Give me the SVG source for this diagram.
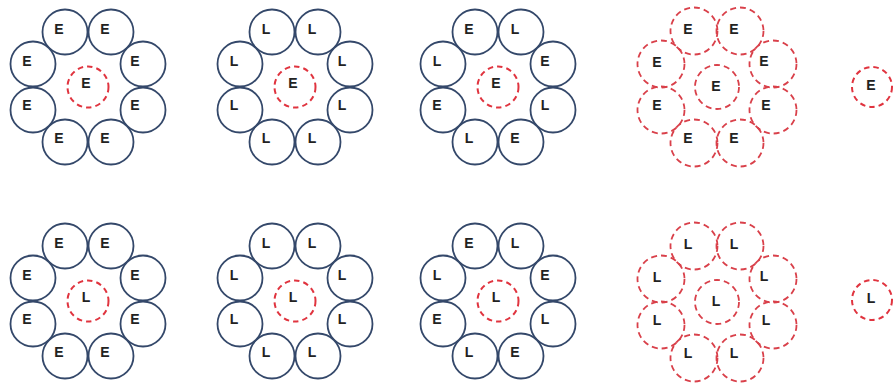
<svg xmlns="http://www.w3.org/2000/svg" width="893" height="383" viewBox="0 0 893 383">
<style>
.o{fill:#fff;stroke:#34486a;stroke-width:1.8}
.c{fill:none;stroke:#e0343f;stroke-width:2;stroke-dasharray:5.5 4}
.d{fill:none;stroke:#d9404a;stroke-width:1.8;stroke-dasharray:6 4}
.t{font-family:"Liberation Sans",Arial,sans-serif;font-size:14px;font-weight:bold;fill:#222;text-anchor:middle}
</style>
<rect width="893" height="383" fill="#fff"/>
<g id="connectors"/>

<!-- Top row, cluster 1 -->
<g id="cluster-t1" transform="translate(88,87)">
<g id="t1-n1"><circle class="o" cx="-23" cy="-55" r="22.5"/><text class="t" x="-29" y="-53">E</text></g>
<g id="t1-n2"><circle class="o" cx="23" cy="-55" r="22.5"/><text class="t" x="17" y="-53">E</text></g>
<g id="t1-n3"><circle class="o" cx="55" cy="-23" r="22.5"/><text class="t" x="47" y="-21">E</text></g>
<g id="t1-n4"><circle class="o" cx="55" cy="23" r="22.5"/><text class="t" x="47" y="23">E</text></g>
<g id="t1-n5"><circle class="o" cx="23" cy="55" r="22.5"/><text class="t" x="17" y="56">E</text></g>
<g id="t1-n6"><circle class="o" cx="-23" cy="55" r="22.5"/><text class="t" x="-29" y="56">E</text></g>
<g id="t1-n7"><circle class="o" cx="-55" cy="23" r="22.5"/><text class="t" x="-61" y="23">E</text></g>
<g id="t1-n8"><circle class="o" cx="-55" cy="-23" r="22.5"/><text class="t" x="-61" y="-21">E</text></g>
<g id="t1-c"><circle class="c" cx="0" cy="0" r="20.5"/><text class="t" x="-2" y="1">E</text></g>
</g>

<!-- Top row, cluster 2 -->
<g id="cluster-t2" transform="translate(295,87)">
<g id="t2-n1"><circle class="o" cx="-23" cy="-55" r="22.5"/><text class="t" x="-29" y="-53">L</text></g>
<g id="t2-n2"><circle class="o" cx="23" cy="-55" r="22.5"/><text class="t" x="17" y="-53">L</text></g>
<g id="t2-n3"><circle class="o" cx="55" cy="-23" r="22.5"/><text class="t" x="47" y="-21">L</text></g>
<g id="t2-n4"><circle class="o" cx="55" cy="23" r="22.5"/><text class="t" x="47" y="23">L</text></g>
<g id="t2-n5"><circle class="o" cx="23" cy="55" r="22.5"/><text class="t" x="17" y="56">L</text></g>
<g id="t2-n6"><circle class="o" cx="-23" cy="55" r="22.5"/><text class="t" x="-29" y="56">L</text></g>
<g id="t2-n7"><circle class="o" cx="-55" cy="23" r="22.5"/><text class="t" x="-61" y="23">L</text></g>
<g id="t2-n8"><circle class="o" cx="-55" cy="-23" r="22.5"/><text class="t" x="-61" y="-21">L</text></g>
<g id="t2-c"><circle class="c" cx="0" cy="0" r="20.5"/><text class="t" x="-2" y="1">E</text></g>
</g>

<!-- Top row, cluster 3 -->
<g id="cluster-t3" transform="translate(498,87)">
<g id="t3-n1"><circle class="o" cx="-23" cy="-55" r="22.5"/><text class="t" x="-29" y="-53">E</text></g>
<g id="t3-n2"><circle class="o" cx="23" cy="-55" r="22.5"/><text class="t" x="17" y="-53">L</text></g>
<g id="t3-n3"><circle class="o" cx="55" cy="-23" r="22.5"/><text class="t" x="47" y="-21">E</text></g>
<g id="t3-n4"><circle class="o" cx="55" cy="23" r="22.5"/><text class="t" x="47" y="23">L</text></g>
<g id="t3-n5"><circle class="o" cx="23" cy="55" r="22.5"/><text class="t" x="17" y="56">E</text></g>
<g id="t3-n6"><circle class="o" cx="-23" cy="55" r="22.5"/><text class="t" x="-29" y="56">L</text></g>
<g id="t3-n7"><circle class="o" cx="-55" cy="23" r="22.5"/><text class="t" x="-61" y="23">E</text></g>
<g id="t3-n8"><circle class="o" cx="-55" cy="-23" r="22.5"/><text class="t" x="-61" y="-21">L</text></g>
<g id="t3-c"><circle class="c" cx="0" cy="0" r="20.5"/><text class="t" x="-2" y="1">E</text></g>
</g>

<!-- Top row, cluster 4 -->
<g id="cluster-t4" transform="translate(717,87)">
<g id="t4-n1"><circle class="d" cx="-23" cy="-56" r="23.5"/><text class="t" x="-29" y="-53">E</text></g>
<g id="t4-n2"><circle class="d" cx="23" cy="-56" r="23.5"/><text class="t" x="17" y="-53">E</text></g>
<g id="t4-n3"><circle class="d" cx="56" cy="-23" r="23.5"/><text class="t" x="47" y="-21">E</text></g>
<g id="t4-n4"><circle class="d" cx="56" cy="23" r="23.5"/><text class="t" x="49" y="23">E</text></g>
<g id="t4-n5"><circle class="d" cx="23" cy="56" r="23.5"/><text class="t" x="17" y="56">E</text></g>
<g id="t4-n6"><circle class="d" cx="-23" cy="56" r="23.5"/><text class="t" x="-29" y="56">E</text></g>
<g id="t4-n7"><circle class="d" cx="-56" cy="23" r="23.5"/><text class="t" x="-60" y="23">E</text></g>
<g id="t4-n8"><circle class="d" cx="-56" cy="-23" r="23.5"/><text class="t" x="-60" y="-20">E</text></g>
<g id="t4-c"><circle class="d" cx="0" cy="0" r="22"/><text class="t" x="-1" y="4">E</text></g>
</g>

<!-- Top row, single -->
<g id="t5" transform="translate(872,87)">
<circle class="c" cx="0" cy="0" r="20"/><text class="t" x="-1" y="3">E</text>
</g>

<!-- Bottom row, cluster 1 -->
<g id="cluster-b1" transform="translate(88,301)">
<g id="b1-n1"><circle class="o" cx="-23" cy="-55" r="22.5"/><text class="t" x="-29" y="-53">E</text></g>
<g id="b1-n2"><circle class="o" cx="23" cy="-55" r="22.5"/><text class="t" x="17" y="-53">E</text></g>
<g id="b1-n3"><circle class="o" cx="55" cy="-23" r="22.5"/><text class="t" x="47" y="-21">E</text></g>
<g id="b1-n4"><circle class="o" cx="55" cy="23" r="22.5"/><text class="t" x="47" y="23">E</text></g>
<g id="b1-n5"><circle class="o" cx="23" cy="55" r="22.5"/><text class="t" x="17" y="56">E</text></g>
<g id="b1-n6"><circle class="o" cx="-23" cy="55" r="22.5"/><text class="t" x="-29" y="56">E</text></g>
<g id="b1-n7"><circle class="o" cx="-55" cy="23" r="22.5"/><text class="t" x="-61" y="23">E</text></g>
<g id="b1-n8"><circle class="o" cx="-55" cy="-23" r="22.5"/><text class="t" x="-61" y="-21">E</text></g>
<g id="b1-c"><circle class="c" cx="0" cy="0" r="20.5"/><text class="t" x="-2" y="1">L</text></g>
</g>

<!-- Bottom row, cluster 2 -->
<g id="cluster-b2" transform="translate(295,301)">
<g id="b2-n1"><circle class="o" cx="-23" cy="-55" r="22.5"/><text class="t" x="-29" y="-53">L</text></g>
<g id="b2-n2"><circle class="o" cx="23" cy="-55" r="22.5"/><text class="t" x="17" y="-53">L</text></g>
<g id="b2-n3"><circle class="o" cx="55" cy="-23" r="22.5"/><text class="t" x="47" y="-21">L</text></g>
<g id="b2-n4"><circle class="o" cx="55" cy="23" r="22.5"/><text class="t" x="47" y="23">L</text></g>
<g id="b2-n5"><circle class="o" cx="23" cy="55" r="22.5"/><text class="t" x="17" y="56">L</text></g>
<g id="b2-n6"><circle class="o" cx="-23" cy="55" r="22.5"/><text class="t" x="-29" y="56">L</text></g>
<g id="b2-n7"><circle class="o" cx="-55" cy="23" r="22.5"/><text class="t" x="-61" y="23">L</text></g>
<g id="b2-n8"><circle class="o" cx="-55" cy="-23" r="22.5"/><text class="t" x="-61" y="-21">L</text></g>
<g id="b2-c"><circle class="c" cx="0" cy="0" r="20.5"/><text class="t" x="-2" y="1">L</text></g>
</g>

<!-- Bottom row, cluster 3 -->
<g id="cluster-b3" transform="translate(498,301)">
<g id="b3-n1"><circle class="o" cx="-23" cy="-55" r="22.5"/><text class="t" x="-29" y="-53">E</text></g>
<g id="b3-n2"><circle class="o" cx="23" cy="-55" r="22.5"/><text class="t" x="17" y="-53">L</text></g>
<g id="b3-n3"><circle class="o" cx="55" cy="-23" r="22.5"/><text class="t" x="47" y="-21">E</text></g>
<g id="b3-n4"><circle class="o" cx="55" cy="23" r="22.5"/><text class="t" x="47" y="23">L</text></g>
<g id="b3-n5"><circle class="o" cx="23" cy="55" r="22.5"/><text class="t" x="17" y="56">E</text></g>
<g id="b3-n6"><circle class="o" cx="-23" cy="55" r="22.5"/><text class="t" x="-29" y="56">L</text></g>
<g id="b3-n7"><circle class="o" cx="-55" cy="23" r="22.5"/><text class="t" x="-61" y="23">E</text></g>
<g id="b3-n8"><circle class="o" cx="-55" cy="-23" r="22.5"/><text class="t" x="-61" y="-21">L</text></g>
<g id="b3-c"><circle class="c" cx="0" cy="0" r="20.5"/><text class="t" x="-2" y="1">L</text></g>
</g>

<!-- Bottom row, cluster 4 -->
<g id="cluster-b4" transform="translate(717,302)">
<g id="b4-n1"><circle class="d" cx="-23" cy="-56" r="23.5"/><text class="t" x="-29" y="-53">L</text></g>
<g id="b4-n2"><circle class="d" cx="23" cy="-56" r="23.5"/><text class="t" x="17" y="-53">L</text></g>
<g id="b4-n3"><circle class="d" cx="56" cy="-23" r="23.5"/><text class="t" x="47" y="-21">L</text></g>
<g id="b4-n4"><circle class="d" cx="56" cy="23" r="23.5"/><text class="t" x="49" y="23">L</text></g>
<g id="b4-n5"><circle class="d" cx="23" cy="56" r="23.5"/><text class="t" x="17" y="56">L</text></g>
<g id="b4-n6"><circle class="d" cx="-23" cy="56" r="23.5"/><text class="t" x="-29" y="56">L</text></g>
<g id="b4-n7"><circle class="d" cx="-56" cy="23" r="23.5"/><text class="t" x="-60" y="23">L</text></g>
<g id="b4-n8"><circle class="d" cx="-56" cy="-23" r="23.5"/><text class="t" x="-60" y="-20">L</text></g>
<g id="b4-c"><circle class="d" cx="0" cy="0" r="22"/><text class="t" x="-1" y="4">L</text></g>
</g>

<!-- Bottom row, single -->
<g id="b5" transform="translate(872,300)">
<circle class="c" cx="0" cy="0" r="20"/><text class="t" x="-1" y="3">L</text>
</g>
</svg>
